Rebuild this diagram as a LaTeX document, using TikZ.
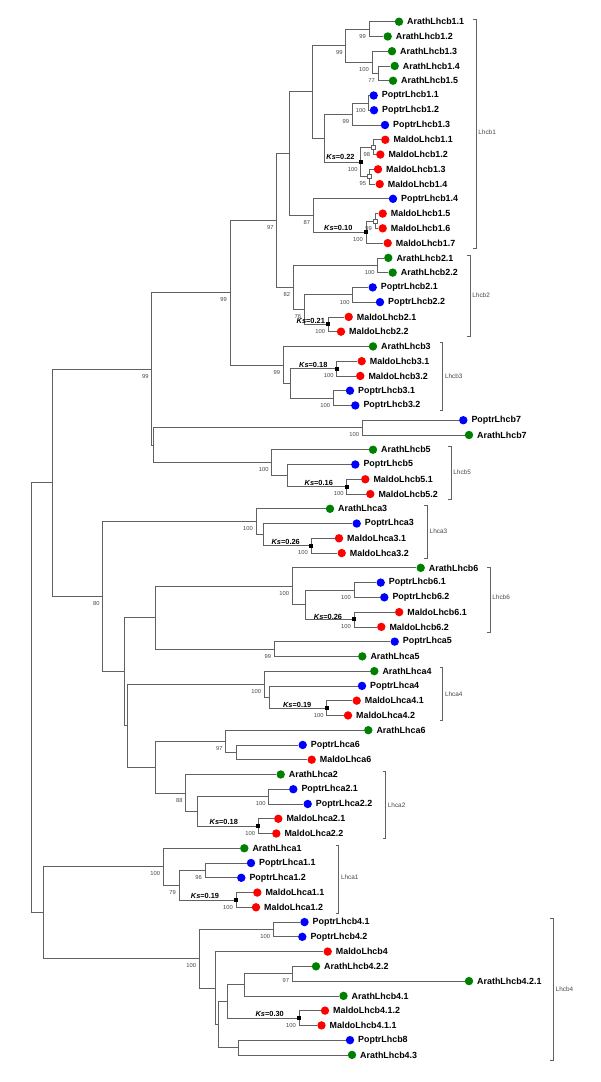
\documentclass[tikz,border=0pt]{standalone}
\usepackage{fontspec}
\setmainfont{Liberation Sans}
\definecolor{cg}{RGB}{0,128,0}
\definecolor{cb}{RGB}{0,0,255}
\definecolor{cr}{RGB}{255,0,0}
\tikzset{
  br/.style={draw=black!62, line width=0.7pt},
  dot/.style={circle, inner sep=0pt, minimum size=8.4pt, draw=none},
  leaflab/.style={anchor=west, inner sep=0pt, font=\fontsize{8.9}{10}\selectfont\bfseries},
  bs/.style={font=\fontsize{5.8}{6}\selectfont, text=black!72, inner sep=0pt, anchor=north east},
  ks/.style={font=\fontsize{7.4}{8}\selectfont\bfseries, inner sep=0pt},
  bsq/.style={fill=black, inner sep=0pt, minimum size=4pt},
  osq/.style={draw=black!62, fill=white, inner sep=0pt, minimum size=4pt, line width=0.5pt},
  brk/.style={draw=black!62, line width=0.7pt},
  clab/.style={font=\fontsize{6.4}{7}\selectfont, text=black!72, anchor=west, inner sep=0pt}
}
\newcommand\tleaf[5]{\node[dot,fill=#4] (#1) at (#2,#3) {}; \node[leaflab] (#1t) at ([xshift=3.6pt]#1.east) {#5};}
\newcommand\brr[3]{\draw[br] (#1) |- (#2) (#1) |- (#3);}
\newcommand\bsl[2]{\node[bs] (#1b) at ([shift={(-3pt,-5pt)}]#1) {#2};}
\newcommand\brak[5]{\draw[brk] (#1-3,#2) -- (#1,#2) -- (#1,#3) -- (#1-3,#3); \node[clab] (#5) at (#1+2.2,#4) {#5};}
\begin{document}
\begin{tikzpicture}[x=1pt,y=-1pt]
\useasboundingbox (0,0) rectangle (600,1082);
\fill[white] (0,0) rectangle (600,1082);
% leaves
\tleaf{l1}{399}{21.7}{cg}{ArathLhcb1.1}
\tleaf{l2}{387.7}{36.46}{cg}{ArathLhcb1.2}
\tleaf{l3}{392}{51.22}{cg}{ArathLhcb1.3}
\tleaf{l4}{394.7}{65.98}{cg}{ArathLhcb1.4}
\tleaf{l5}{393}{80.74}{cg}{ArathLhcb1.5}
\tleaf{l6}{373.7}{95.5}{cb}{PoptrLhcb1.1}
\tleaf{l7}{374}{110.26}{cb}{PoptrLhcb1.2}
\tleaf{l8}{385}{125.02}{cb}{PoptrLhcb1.3}
\tleaf{l9}{385.3}{139.78}{cr}{MaldoLhcb1.1}
\tleaf{l10}{380.3}{154.54}{cr}{MaldoLhcb1.2}
\tleaf{l11}{378}{169.3}{cr}{MaldoLhcb1.3}
\tleaf{l12}{379.7}{184.06}{cr}{MaldoLhcb1.4}
\tleaf{l13}{393}{198.82}{cb}{PoptrLhcb1.4}
\tleaf{l14}{382.7}{213.58}{cr}{MaldoLhcb1.5}
\tleaf{l15}{382.7}{228.34}{cr}{MaldoLhcb1.6}
\tleaf{l16}{387.7}{243.1}{cr}{MaldoLhcb1.7}
\tleaf{l17}{388.3}{257.86}{cg}{ArathLhcb2.1}
\tleaf{l18}{392.7}{272.62}{cg}{ArathLhcb2.2}
\tleaf{l19}{372.7}{287.38}{cb}{PoptrLhcb2.1}
\tleaf{l20}{380}{302.14}{cb}{PoptrLhcb2.2}
\tleaf{l21}{348.7}{316.9}{cr}{MaldoLhcb2.1}
\tleaf{l22}{341}{331.66}{cr}{MaldoLhcb2.2}
\tleaf{l23}{373}{346.42}{cg}{ArathLhcb3}
\tleaf{l24}{361.7}{361.18}{cr}{MaldoLhcb3.1}
\tleaf{l25}{360.3}{375.94}{cr}{MaldoLhcb3.2}
\tleaf{l26}{350}{390.7}{cb}{PoptrLhcb3.1}
\tleaf{l27}{355.3}{405.46}{cb}{PoptrLhcb3.2}
\tleaf{l28}{463.3}{420.22}{cb}{PoptrLhcb7}
\tleaf{l29}{469}{434.98}{cg}{ArathLhcb7}
\tleaf{l30}{373}{449.74}{cg}{ArathLhcb5}
\tleaf{l31}{355.3}{464.5}{cb}{PoptrLhcb5}
\tleaf{l32}{365.3}{479.26}{cr}{MaldoLhcb5.1}
\tleaf{l33}{370.3}{494.02}{cr}{MaldoLhcb5.2}
\tleaf{l34}{330}{508.78}{cg}{ArathLhca3}
\tleaf{l35}{356.7}{523.54}{cb}{PoptrLhca3}
\tleaf{l36}{339}{538.3}{cr}{MaldoLhca3.1}
\tleaf{l37}{341.7}{553.06}{cr}{MaldoLhca3.2}
\tleaf{l38}{420.7}{567.82}{cg}{ArathLhcb6}
\tleaf{l39}{380.7}{582.58}{cb}{PoptrLhcb6.1}
\tleaf{l40}{384.3}{597.34}{cb}{PoptrLhcb6.2}
\tleaf{l41}{399.2}{612.1}{cr}{MaldoLhcb6.1}
\tleaf{l42}{381.3}{626.86}{cr}{MaldoLhcb6.2}
\tleaf{l43}{394.7}{641.62}{cb}{PoptrLhca5}
\tleaf{l44}{362.3}{656.38}{cg}{ArathLhca5}
\tleaf{l45}{374.3}{671.14}{cg}{ArathLhca4}
\tleaf{l46}{362}{685.9}{cb}{PoptrLhca4}
\tleaf{l47}{356.7}{700.66}{cr}{MaldoLhca4.1}
\tleaf{l48}{348}{715.42}{cr}{MaldoLhca4.2}
\tleaf{l49}{368.3}{730.18}{cg}{ArathLhca6}
\tleaf{l50}{302.7}{744.94}{cb}{PoptrLhca6}
\tleaf{l51}{311.7}{759.7}{cr}{MaldoLhca6}
\tleaf{l52}{280.7}{774.46}{cg}{ArathLhca2}
\tleaf{l53}{293.3}{789.22}{cb}{PoptrLhca2.1}
\tleaf{l54}{307.7}{803.98}{cb}{PoptrLhca2.2}
\tleaf{l55}{278.3}{818.74}{cr}{MaldoLhca2.1}
\tleaf{l56}{276.3}{833.5}{cr}{MaldoLhca2.2}
\tleaf{l57}{244.3}{848.26}{cg}{ArathLhca1}
\tleaf{l58}{251}{863.02}{cb}{PoptrLhca1.1}
\tleaf{l59}{241.3}{877.78}{cb}{PoptrLhca1.2}
\tleaf{l60}{257.3}{892.54}{cr}{MaldoLhca1.1}
\tleaf{l61}{256}{907.3}{cr}{MaldoLhca1.2}
\tleaf{l62}{304.5}{922.06}{cb}{PoptrLhcb4.1}
\tleaf{l63}{302.3}{936.82}{cb}{PoptrLhcb4.2}
\tleaf{l64}{327.7}{951.58}{cr}{MaldoLhcb4}
\tleaf{l65}{316}{966.34}{cg}{ArathLhcb4.2.2}
\tleaf{l66}{469}{981.1}{cg}{ArathLhcb4.2.1}
\tleaf{l67}{343.5}{995.86}{cg}{ArathLhcb4.1}
\tleaf{l68}{325}{1010.62}{cr}{MaldoLhcb4.1.2}
\tleaf{l69}{321.5}{1025.38}{cr}{MaldoLhcb4.1.1}
\tleaf{l70}{350}{1040.14}{cb}{PoptrLhcb8}
\tleaf{l71}{352}{1054.9}{cg}{ArathLhcb4.3}
% internal nodes
\coordinate (na12) at (369,29.08);
\coordinate (na45) at (378,73.36);
\coordinate (na35) at (372,62.29);
\coordinate (na1) at (345.7,45.69);
\coordinate (np12) at (368.7,102.88);
\coordinate (np1) at (352.3,113.95);
\coordinate (nm12) at (373.3,147.16);
\coordinate (nm34) at (369.3,176.68);
\coordinate (nm1) at (360.7,161.92);
\coordinate (npm1) at (324,137.94);
\coordinate (nl1a) at (312.7,91.81);
\coordinate (nm56) at (375,220.96);
\coordinate (nm57) at (366,232.03);
\coordinate (np4m) at (313.3,215.43);
\coordinate (nl1) at (289.3,153.62);
\coordinate (na2) at (377.7,265.24);
\coordinate (np2) at (352.7,294.76);
\coordinate (nm2) at (328.3,324.28);
\coordinate (npm2) at (304.3,309.52);
\coordinate (nl2) at (293.3,287.38);
\coordinate (nl12) at (276.7,220.5);
\coordinate (nm3) at (336.7,368.56);
\coordinate (np3) at (333.3,398.08);
\coordinate (nmp3) at (290.7,383.32);
\coordinate (nl3) at (283.3,364.87);
\coordinate (nA) at (230,292.69);
\coordinate (nl7) at (362.3,427.6);
\coordinate (nm5) at (346.7,486.64);
\coordinate (npm5) at (287.3,475.57);
\coordinate (nl5) at (271.7,462.66);
\coordinate (nC) at (153.3,445.13);
\coordinate (nB) at (151.7,368.91);
\coordinate (nma3) at (311,545.68);
\coordinate (npma3) at (263.3,534.61);
\coordinate (nla3) at (256,521.7);
\coordinate (np6) at (354,589.96);
\coordinate (nm6) at (354,619.48);
\coordinate (npm6) at (305.7,604.72);
\coordinate (nl6) at (292.3,586.27);
\coordinate (nla5) at (274.3,649);
\coordinate (nH) at (155.5,617.64);
\coordinate (nma4) at (326.7,708.04);
\coordinate (npma4) at (269,696.97);
\coordinate (nla4) at (264.3,684.06);
\coordinate (npma6) at (236,752.32);
\coordinate (nla6) at (225.7,741.25);
\coordinate (npa2) at (268.7,796.6);
\coordinate (nma2) at (258.3,826.12);
\coordinate (npma2) at (197,811.36);
\coordinate (nla2) at (185.7,792.91);
\coordinate (nI) at (155.3,767.08);
\coordinate (nG) at (127.7,725.57);
\coordinate (nF) at (124.3,671.6);
\coordinate (nE) at (102.7,596.65);
\coordinate (nD) at (52.3,482.78);
\coordinate (npa1) at (205,870.4);
\coordinate (nma1) at (236,899.92);
\coordinate (npma1) at (179,885.16);
\coordinate (nla1) at (163.3,866.71);
\coordinate (np4) at (273.3,929.44);
\coordinate (na42) at (292.3,973.72);
\coordinate (nV) at (244.3,984.79);
\coordinate (nm41) at (299,1018);
\coordinate (nZ) at (227.3,1001.4);
\coordinate (nW) at (238.3,1047.52);
\coordinate (nY) at (218.3,1024.46);
\coordinate (nX) at (215.7,988.02);
\coordinate (nl4) at (199.3,958.73);
\coordinate (nR2) at (43.3,912.72);
\coordinate (nR1) at (31,697.75);
% branches
\brr{na12}{l1.west}{l2.west}
\brr{na45}{l4.west}{l5.west}
\brr{na35}{l3.west}{na45}
\brr{na1}{na12}{na35}
\brr{np12}{l6.west}{l7.west}
\brr{np1}{np12}{l8.west}
\brr{nm12}{l9.west}{l10.west}
\brr{nm34}{l11.west}{l12.west}
\brr{nm1}{nm12}{nm34}
\brr{npm1}{np1}{nm1}
\brr{nl1a}{na1}{npm1}
\brr{nm56}{l14.west}{l15.west}
\brr{nm57}{nm56}{l16.west}
\brr{np4m}{l13.west}{nm57}
\brr{nl1}{nl1a}{np4m}
\brr{na2}{l17.west}{l18.west}
\brr{np2}{l19.west}{l20.west}
\brr{nm2}{l21.west}{l22.west}
\brr{npm2}{np2}{nm2}
\brr{nl2}{na2}{npm2}
\brr{nl12}{nl1}{nl2}
\brr{nm3}{l24.west}{l25.west}
\brr{np3}{l26.west}{l27.west}
\brr{nmp3}{nm3}{np3}
\brr{nl3}{l23.west}{nmp3}
\brr{nA}{nl12}{nl3}
\brr{nl7}{l28.west}{l29.west}
\brr{nm5}{l32.west}{l33.west}
\brr{npm5}{l31.west}{nm5}
\brr{nl5}{l30.west}{npm5}
\brr{nC}{nl7}{nl5}
\brr{nB}{nA}{nC}
\brr{nma3}{l36.west}{l37.west}
\brr{npma3}{l35.west}{nma3}
\brr{nla3}{l34.west}{npma3}
\brr{np6}{l39.west}{l40.west}
\brr{nm6}{l41.west}{l42.west}
\brr{npm6}{np6}{nm6}
\brr{nl6}{l38.west}{npm6}
\brr{nla5}{l43.west}{l44.west}
\brr{nH}{nl6}{nla5}
\brr{nma4}{l47.west}{l48.west}
\brr{npma4}{l46.west}{nma4}
\brr{nla4}{l45.west}{npma4}
\brr{npma6}{l50.west}{l51.west}
\brr{nla6}{l49.west}{npma6}
\brr{npa2}{l53.west}{l54.west}
\brr{nma2}{l55.west}{l56.west}
\brr{npma2}{npa2}{nma2}
\brr{nla2}{l52.west}{npma2}
\brr{nI}{nla6}{nla2}
\brr{nG}{nla4}{nI}
\brr{nF}{nH}{nG}
\brr{nE}{nla3}{nF}
\brr{nD}{nB}{nE}
\brr{npa1}{l58.west}{l59.west}
\brr{nma1}{l60.west}{l61.west}
\brr{npma1}{npa1}{nma1}
\brr{nla1}{l57.west}{npma1}
\brr{np4}{l62.west}{l63.west}
\brr{na42}{l65.west}{l66.west}
\brr{nV}{na42}{l67.west}
\brr{nm41}{l68.west}{l69.west}
\brr{nZ}{nV}{nm41}
\brr{nW}{l70.west}{l71.west}
\brr{nY}{nZ}{nW}
\brr{nX}{l64.west}{nY}
\brr{nl4}{np4}{nX}
\brr{nR2}{nla1}{nl4}
\brr{nR1}{nD}{nR2}
% duplication squares
\foreach \n in {nm1,nm57,nm2,nm3,nm5,nma3,nm6,nma4,nma2,nma1,nm41} {\node[bsq] (\n s) at (\n) {};}
\foreach \n in {nm12,nm34,nm56} {\node[osq] (\n s) at (\n) {};}
% bootstrap values
\bsl{na12}{99}
\bsl{na1}{99}
\bsl{na35}{100}
\bsl{na45}{77}
\bsl{np12}{100}
\bsl{np1}{99}
\bsl{nm12}{98}
\bsl{nm1}{100}
\bsl{nm34}{95}
\bsl{np4m}{87}
\bsl{nm56}{99}
\bsl{nm57}{100}
\bsl{nl12}{97}
\bsl{na2}{100}
\bsl{nl2}{82}
\bsl{np2}{100}
\bsl{npm2}{76}
\bsl{nm2}{100}
\bsl{nm3}{100}
\bsl{nl3}{99}
\bsl{np3}{100}
\bsl{nA}{99}
\bsl{nB}{99}
\bsl{nl7}{100}
\bsl{nl5}{100}
\bsl{nm5}{100}
\bsl{nla3}{100}
\bsl{nma3}{100}
\bsl{nl6}{100}
\bsl{np6}{100}
\bsl{nm6}{100}
\bsl{nla5}{99}
\bsl{nE}{80}
\bsl{nla4}{100}
\bsl{nma4}{100}
\bsl{nla6}{97}
\bsl{nla2}{88}
\bsl{npa2}{100}
\bsl{nma2}{100}
\bsl{nla1}{100}
\bsl{npma1}{79}
\bsl{npa1}{96}
\bsl{nma1}{100}
\bsl{np4}{100}
\bsl{nl4}{100}
\bsl{na42}{97}
\bsl{nm41}{100}
% Ks values
\node[ks] (k1) at (340.5,157) {\textit{Ks}=0.22};
\node[ks] (k2) at (338.3,228.3) {\textit{Ks}=0.10};
\node[ks] (k3) at (310.8,321) {\textit{Ks}=0.21};
\node[ks] (k4) at (313.3,364.7) {\textit{Ks}=0.18};
\node[ks] (k5) at (318.8,483.3) {\textit{Ks}=0.16};
\node[ks] (k6) at (285.7,542.3) {\textit{Ks}=0.26};
\node[ks] (k7) at (328,616.7) {\textit{Ks}=0.26};
\node[ks] (k8) at (297.2,705) {\textit{Ks}=0.19};
\node[ks] (k9) at (223.8,821.7) {\textit{Ks}=0.18};
\node[ks] (k10) at (205,896) {\textit{Ks}=0.19};
\node[ks] (k11) at (269.7,1014) {\textit{Ks}=0.30};
% clade brackets
\brak{476}{19.3}{248.3}{132.7}{Lhcb1}
\brak{470}{255}{336.5}{295.7}{Lhcb2}
\brak{442.7}{342.7}{410.7}{376.7}{Lhcb3}
\brak{451}{446.7}{499.3}{472.7}{Lhcb5}
\brak{427.3}{505.5}{558.8}{531.7}{Lhca3}
\brak{490}{567.3}{632.3}{597.7}{Lhcb6}
\brak{442.7}{667.3}{720.7}{694}{Lhca4}
\brak{385.5}{771}{838.8}{805}{Lhca2}
\brak{338.7}{845}{913.3}{877.7}{Lhca1}
\brak{553.3}{918.3}{1060}{989.3}{Lhcb4}
\end{tikzpicture}
\end{document}
